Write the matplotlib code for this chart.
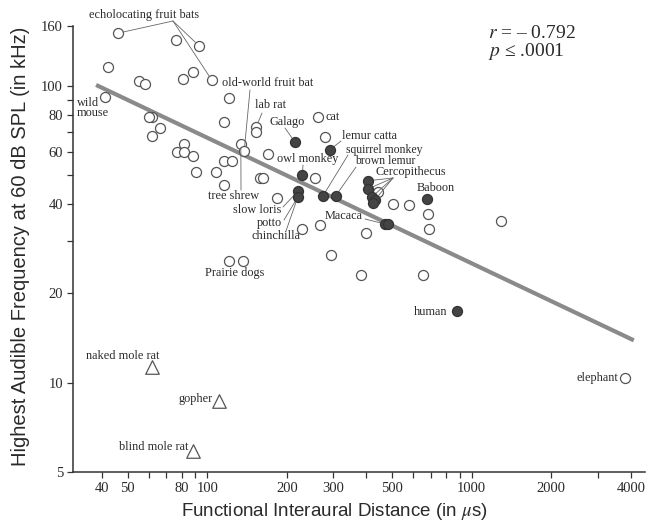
import matplotlib
matplotlib.use("Agg")
import matplotlib.pyplot as plt
from matplotlib.ticker import FixedLocator, FixedFormatter, NullFormatter

plt.rcParams["mathtext.fontset"] = "stix"

# ---------------- data ----------------
# open circles: non-primate mammals (x: functional interaural distance in us, y: kHz)
open_x = [46, 42, 55, 58, 76, 93, 88, 81, 104, 41, 121, 62, 60, 66, 62, 116,
          82, 77, 82, 88, 91, 108, 116, 124, 134, 138, 153, 153, 262, 278, 170,
          158, 162, 116, 255, 183, 443, 505, 581, 685, 691, 266, 229, 398, 293,
          121, 136, 381, 652, 1291, 3800]
open_y = [151, 116, 104, 102, 143, 137, 112, 106, 105, 92, 91, 79, 78.6, 72.5,
          68, 76, 64, 60, 60, 58, 51.5, 51.5, 56, 56, 64, 60.6, 72.7, 70, 79,
          67.6, 59, 49, 49, 46.5, 49, 42, 44, 40, 39.7, 37, 33, 34, 33, 32, 27,
          25.7, 25.7, 23, 23, 35, 10.4]
# filled circles: primates
primate_x = [214, 291, 229, 220, 220, 274, 306, 404, 404, 418, 430, 424, 677,
             470, 483, 877]
primate_y = [65, 61, 50, 44.2, 42.3, 42.7, 42.7, 48, 45, 42.2, 41.3, 40.3, 41.7,
             34.3, 34.3, 17.4]
# triangles: subterranean rodents
subterranean_x = [62, 111, 88]
subterranean_y = [11.3, 8.7, 5.9]
# regression line
fit_x = [38, 4100]
fit_y = [101, 13.9]
stat_r = "\u2013 0.792"
stat_p = ".0001"

x_ticks = [40, 50, 80, 100, 200, 300, 500, 1000, 2000, 4000]
x_minor = [60, 70, 90, 400, 600, 700, 800, 900, 3000]
y_ticks = [5, 10, 20, 40, 60, 80, 100, 160]
y_minor = [30, 50, 70, 90]

# ---------------- figure ----------------
W, H = 649, 531
fig = plt.figure(figsize=(W / 100, H / 100), dpi=100)
ax = fig.add_axes([72.7 / W, 1 - 472 / H, (645 - 72.7) / W, (472 - 25.7) / H])
ax.set_xscale("log")
ax.set_yscale("log")
ax.set_xlim(31, 4520)
ax.set_ylim(5, 160)

SERIF = ["Liberation Serif", "DejaVu Serif"]
SANS = ["Liberation Sans", "DejaVu Sans"]
TXT = "#2a2a2a"

for s in ["top", "right"]:
    ax.spines[s].set_visible(False)
for s in ["left", "bottom"]:
    ax.spines[s].set_linewidth(1.1)
    ax.spines[s].set_color("#333333")

ax.xaxis.set_major_locator(FixedLocator(x_ticks))
ax.xaxis.set_major_formatter(FixedFormatter([str(t) for t in x_ticks]))
ax.xaxis.set_minor_locator(FixedLocator(x_minor))
ax.xaxis.set_minor_formatter(NullFormatter())
ax.yaxis.set_major_locator(FixedLocator(y_ticks))
ax.yaxis.set_major_formatter(FixedFormatter([str(t) for t in y_ticks]))
ax.yaxis.set_minor_locator(FixedLocator(y_minor))
ax.yaxis.set_minor_formatter(NullFormatter())
ax.tick_params(which="both", direction="out", length=4, width=0.9, color="#333333",
               labelcolor=TXT, pad=3)
for lab_ in ax.get_xticklabels() + ax.get_yticklabels():
    lab_.set_fontfamily(SERIF)
    lab_.set_fontsize(10.5)

fig.text(334 / W, 1 - 511 / H, "Functional Interaural Distance (in $\\mu$s)",
         fontfamily=SANS, fontsize=13.5, color=TXT, ha="center", va="center")
fig.text(21 / W, 1 - 246 / H, "Highest Audible Frequency at 60 dB SPL (in kHz)",
         fontfamily=SANS, fontsize=14.5, color=TXT, ha="center", va="center",
         rotation=90)

# regression line
ax.plot(fit_x, fit_y, color="#8a8a8a", lw=3.0, solid_capstyle="butt", zorder=2)

# points
ax.scatter(open_x, open_y, s=52, facecolors="white", edgecolors="#555555",
           linewidths=0.9, zorder=3)
ax.scatter(primate_x, primate_y, s=52, facecolors="#444444", edgecolors="#333333",
           linewidths=0.9, zorder=4)
ax.scatter(subterranean_x, subterranean_y, s=95, marker="^", facecolors="white",
           edgecolors="#555555", linewidths=0.9, zorder=3)


def lab(text, px, py, ha="left", size=8.8, **kw):
    ax.annotate(text, xy=(px, H - py), xycoords="figure pixels", ha=ha,
                va="center", fontfamily=SERIF, fontsize=size, color=TXT,
                annotation_clip=False, **kw)


def lead(px, py, tx, ty):
    ax.annotate("", xy=(tx, ty), xycoords="data", xytext=(px, H - py),
                textcoords="figure pixels",
                arrowprops=dict(arrowstyle="-", lw=0.6, color="#666666",
                                shrinkA=0, shrinkB=3.5), annotation_clip=False)


lab("echolocating fruit bats", 89, 15)
for i in (0, 5, 8):
    lead(173, 21, open_x[i], open_y[i])
lab("old-world fruit bat", 222, 83)
lab("wild\nmouse", 77, 108, linespacing=0.85)
lab("lab rat", 255, 105)
lead(262, 113, open_x[26], open_y[26])
lab("Galago", 270, 122)
lead(285, 128, primate_x[0], primate_y[0])
lab("cat", 325, 117)
lab("lemur catta", 342, 136)
lead(341, 141, primate_x[1], primate_y[1])
lab("owl monkey", 277, 159)
lead(303, 165, primate_x[2], primate_y[2])
lab("squirrel monkey", 346, 150, size=8.5)
lead(348, 155, primate_x[5], primate_y[5])
lab("brown lemur", 355, 161.5, size=8.5)
lead(356, 167, primate_x[6], primate_y[6])
lab("Cercopithecus", 375, 172.5)
for i in (7, 8, 9, 10):
    lead(393, 178, primate_x[i], primate_y[i])
lab("Baboon", 417, 188)
lab("tree shrew", 208, 196)
lead(241, 190, open_x[24], open_y[24])
lead(250, 90, open_x[25], open_y[25])
lab("slow loris", 233, 210)
lead(283, 207, primate_x[3], primate_y[3])
lab("potto", 257, 223)
lead(284, 220, primate_x[4], primate_y[4])
lab("chinchilla", 252, 236)
lead(286, 231, primate_x[4], primate_y[4])
lab("Macaca", 325, 216)
lead(365, 219, primate_x[13], primate_y[13])
lab("Prairie dogs", 205, 273)
lab("human", 447, 312, ha="right")
lab("elephant", 618, 378, ha="right")
lab("naked mole rat", 86, 356)
lab("gopher", 213, 399, ha="right")
lab("blind mole rat", 188, 447, ha="right")

ax.annotate("$r$ = " + stat_r, xy=(488, H - 33), xycoords="figure pixels",
            va="center", fontfamily=SERIF, fontsize=14, color=TXT)
ax.annotate("$p$ \u2264 " + stat_p, xy=(488, H - 51), xycoords="figure pixels",
            va="center", fontfamily=SERIF, fontsize=14, color=TXT)

fig.savefig("out.png", dpi=100)
